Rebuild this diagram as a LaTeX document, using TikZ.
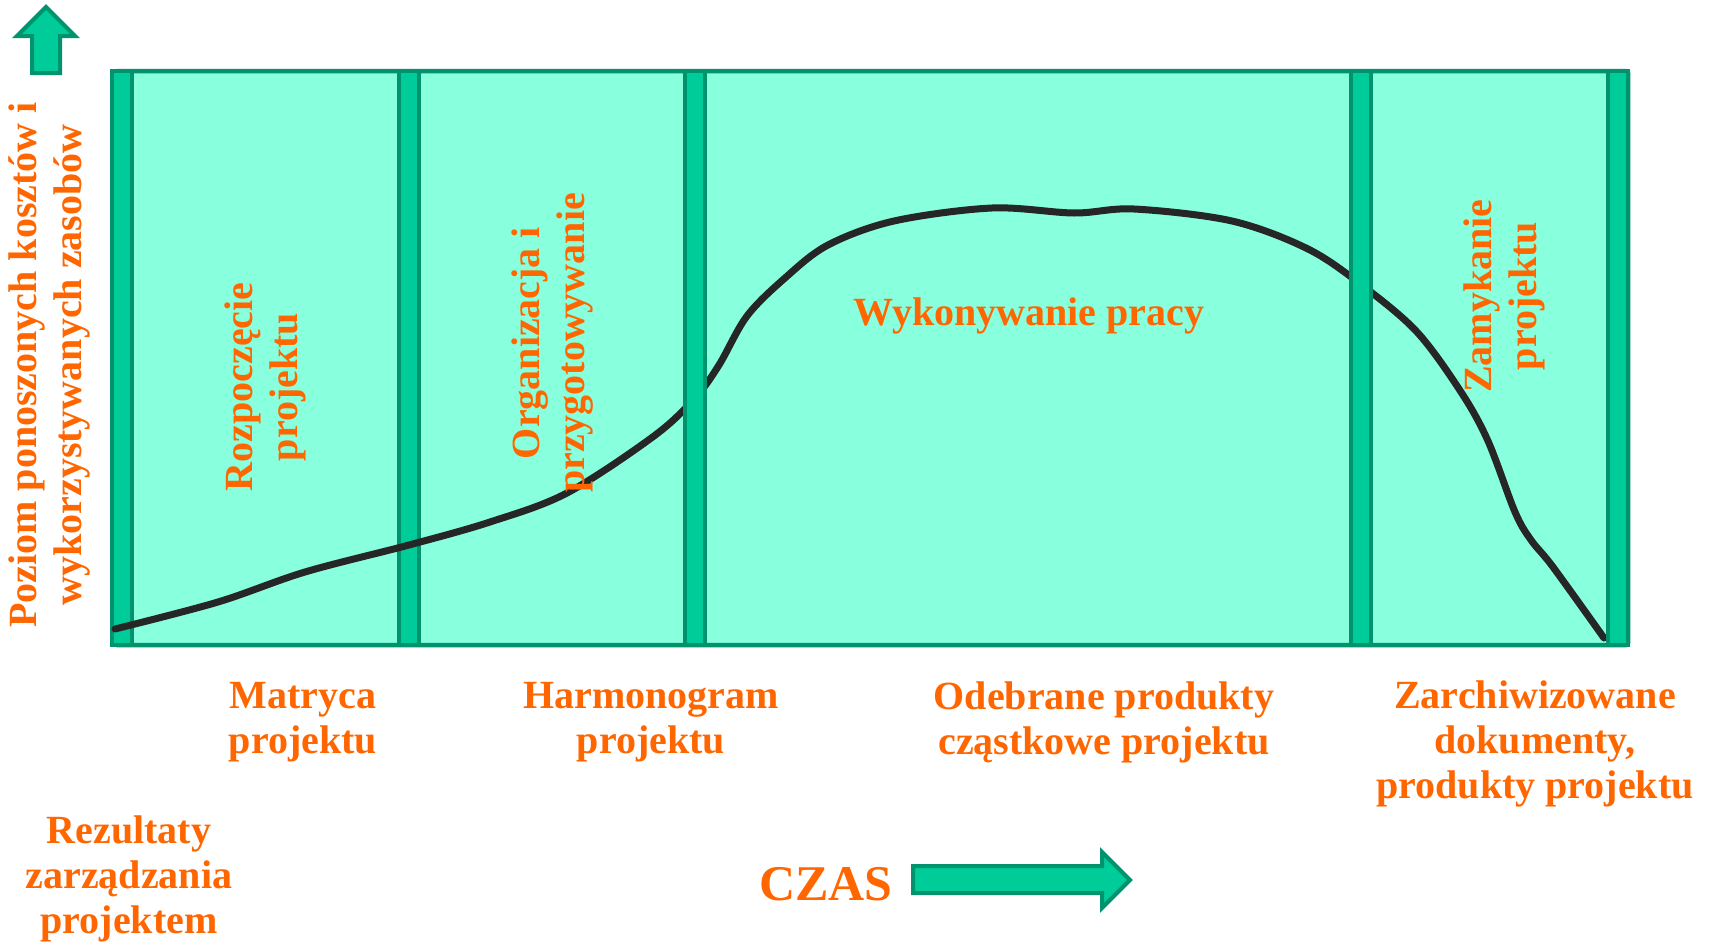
\documentclass[tikz,border=0pt]{standalone}
\usepackage{fontspec}
\setmainfont{Liberation Serif}
\usepackage{tikz}
\usetikzlibrary{positioning}
\definecolor{jasnyturkus}{RGB}{136,255,221}
\definecolor{turkus}{RGB}{0,204,153}
\definecolor{ciemnyturkus}{RGB}{0,147,110}
\definecolor{pomarancz}{RGB}{255,102,0}
\newcommand{\Belka}[1]{%
  \draw[belka] (#1-10,71) rectangle (#1+10,645);
}

\begin{document}
\begin{tikzpicture}[x=1pt,y=-1pt,
  belka/.style={draw=ciemnyturkus,fill=turkus,line width=4.5pt},
  opis/.style={text=pomarancz,font=\fontsize{40}{45}\selectfont\bfseries,align=center,inner sep=0pt},
  strzalka/.style={draw=ciemnyturkus,fill=turkus,line width=4pt,line join=miter}]
  \useasboundingbox (0,0) rectangle (1709,945);
  \draw[draw=ciemnyturkus,fill=jasnyturkus,line width=4.5pt,rounded corners=2pt] (115,71) rectangle (1628,645);
  \Belka{122}
  \Belka{409}
  % krzywa kosztow
  \draw[line width=7pt,color=black!85,line cap=round] plot[smooth,tension=0.55] coordinates {
    (115,629) (218,602) (305,572) (409,545) (490,522) (567,493) (654,436) (695,398)
    (719,365) (747,316) (785,278) (828,245) (894,221) (992,208) (1074,213) (1134,209)
    (1232,221) (1308,249) (1363,286) (1417,332) (1461,392) (1488,441) (1515,512)
    (1531,540) (1553,567) (1604,638)};
  \Belka{695}
  \Belka{1361}
  \Belka{1618}
  % strzalki
  \draw[strzalka] (46,7) -- (75,36) -- (60,36) -- (60,73) -- (32,73) -- (32,36) -- (17,36) -- cycle;
  \draw[strzalka] (913,866) -- (1102,866) -- (1102,852) -- (1130,880) -- (1102,908) -- (1102,893) -- (913,893) -- cycle;
  \node[opis,rotate=90] (poziom) at (49,365) {Poziom ponoszonych kosztów i\\wykorzystywanych zasobów};
  \node[opis,rotate=90] (rozpoczecie) at (265,387) {Rozpoczęcie\\projektu};
  \node[opis,rotate=90] (organizacja) at (553,343) {Organizacja i\\przygotowywanie};
  \node[opis] (wykonywanie) at (1029,316) {Wykonywanie pracy};
  \node[opis,rotate=90] (zamykanie) at (1504,296) {Zamykanie\\projektu};
  \node[opis] (matryca) at (303,722) {Matryca\\projektu};
  \node[opis] (harmonogram) at (651,722) {Harmonogram\\projektu};
  \node[opis] (odebrane) at (1104,722) {Odebrane produkty\\cząstkowe projektu};
  \node[opis] (zarchiwizowane) at (1535,744) {Zarchiwizowane\\dokumenty,\\produkty projektu};
  \node[opis] (rezultaty) at (129,879) {Rezultaty\\zarządzania\\projektem};
  \node[opis,font=\fontsize{50}{56}\selectfont\bfseries] (czas) at (826,884) {CZAS};
\end{tikzpicture}
\end{document}
